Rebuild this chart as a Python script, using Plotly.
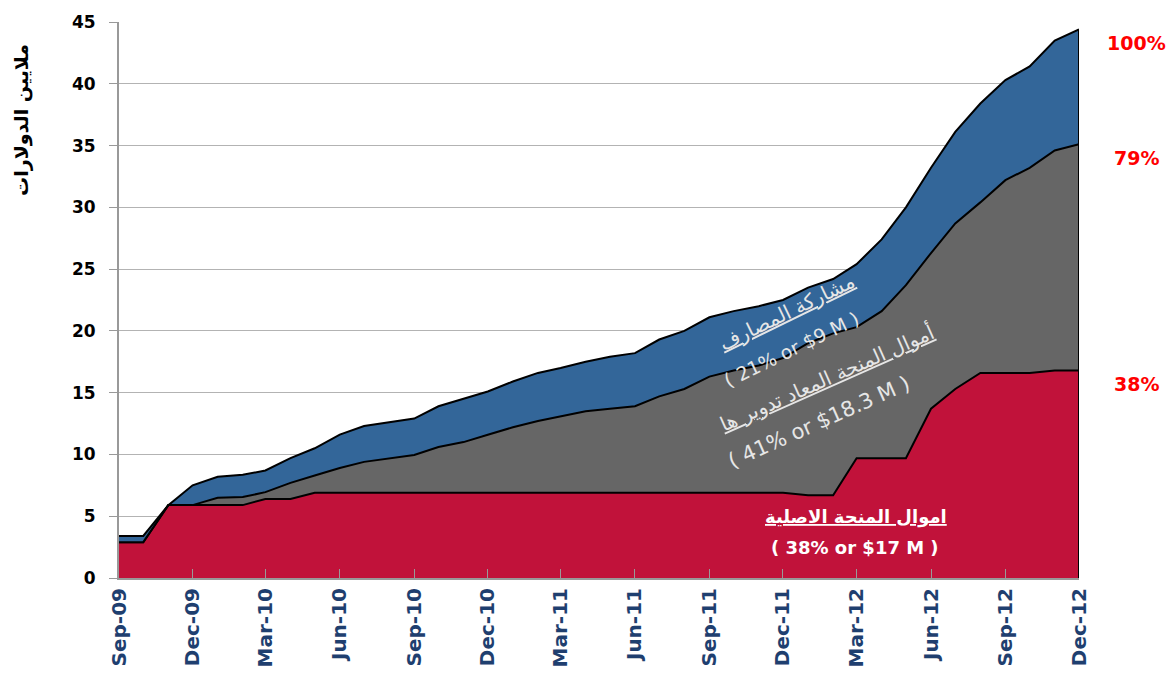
import pandas as pd
import plotly.graph_objects as go

# Monthly categories Sep-2009 .. Dec-2012
months = pd.date_range("2009-09-01", "2012-12-01", freq="MS")

# Original grant funds (red), $ millions
grant = [2.9, 2.9, 5.9, 5.9, 5.9, 5.9, 6.4, 6.4, 6.9, 6.9,
         6.9, 6.9, 6.9, 6.9, 6.9, 6.9, 6.9, 6.9, 6.9, 6.9,
         6.9, 6.9, 6.9, 6.9, 6.9, 6.9, 6.9, 6.9, 6.7, 6.7,
         9.7, 9.7, 9.7, 13.7, 15.3, 16.6, 16.6, 16.6, 16.8, 16.8]
# Recycled grant funds (gray)
recycled = [0.0, 0.0, 0.0, 0.0, 0.6, 0.65, 0.55, 1.3, 1.4, 2.0,
            2.5, 2.8, 3.05, 3.7, 4.1, 4.7, 5.3, 5.8, 6.2, 6.6,
            6.8, 7.0, 7.8, 8.4, 9.4, 9.9, 10.3, 10.9, 12.3, 13.1,
            10.6, 11.9, 14.0, 12.6, 13.4, 13.8, 15.6, 16.6, 17.8, 18.3]
# Bank participation (blue)
banks = [0.5, 0.5, 0.0, 1.6, 1.7, 1.8, 1.75, 2.0, 2.2, 2.7,
         2.9, 2.9, 2.95, 3.3, 3.5, 3.5, 3.7, 3.9, 3.9, 4.0,
         4.2, 4.3, 4.6, 4.7, 4.8, 4.8, 4.8, 4.7, 4.5, 4.4,
         5.1, 5.8, 6.3, 6.9, 7.4, 8.0, 8.1, 8.2, 8.9, 9.3]

series_names = ["اموال المنحة الاصلية", "أموال المنحة المعاد تدوير ها", "مشاركة المصارف"]
series_notes = ["( 38% or $17 M )", "( 41% or $18.3 M )", "( 21% or $9 M )"]
series_colors = ["#C1123A", "#666666", "#336699"]

FONT = "DejaVu Sans, Open Sans, Arial"

fig = go.Figure()
for name, vals, col in zip(series_names, [grant, recycled, banks], series_colors):
    fig.add_trace(go.Scatter(
        x=months, y=vals, name=name, mode="lines", stackgroup="one",
        line=dict(color="black", width=2), fillcolor=col, hoverinfo="skip"))

total_last = grant[-1] + recycled[-1] + banks[-1]
fig.add_trace(go.Scatter(x=[months[-1], months[-1]], y=[0, total_last], mode="lines",
                         line=dict(color="black", width=2), hoverinfo="skip", showlegend=False))

# Right-side percentage labels
cum_red = grant[-1]
cum_gray = grant[-1] + recycled[-1]
for val in [total_last, cum_gray, cum_red]:
    pct = round(100 * val / total_last)
    fig.add_annotation(x=1.060, xref="paper", xanchor="center", y=val, yref="y", yshift=-14,
                       text=f"<b>{pct}%</b>", showarrow=False,
                       font=dict(family=FONT, size=19, color="#FF0000"))

# Y axis title
fig.add_annotation(x=-0.101, xref="paper", xanchor="center", y=0.824, yref="paper",
                   yanchor="middle", textangle=-90,
                   text="<b>ملايين الدولارات</b>", showarrow=False,
                   font=dict(family=FONT, size=19, color="black"))

# In-area labels (title line + note line for each series)
# red
fig.add_annotation(x="2012-02-29", y=4.94, xref="x", yref="y", showarrow=False,
                   text=f"<b><u>{series_names[0]}</u></b>",
                   font=dict(family=FONT, size=18, color="white"))
fig.add_annotation(x="2012-02-28", y=2.43, xref="x", yref="y", showarrow=False,
                   text=f"<b>{series_notes[0]}</b>",
                   font=dict(family=FONT, size=18, color="white"))
# gray
fig.add_annotation(x="2012-01-25", y=16.2, xref="x", yref="y", showarrow=False, textangle=-24,
                   text=f"<u>{series_names[1]}</u>",
                   font=dict(family=FONT, size=20, color="#E6E6E6"))
fig.add_annotation(x="2012-01-15", y=12.6, xref="x", yref="y", showarrow=False, textangle=-24,
                   text=series_notes[1],
                   font=dict(family=FONT, size=21, color="#E6E6E6"))
# blue
fig.add_annotation(x="2011-12-06", y=21.5, xref="x", yref="y", showarrow=False, textangle=-26,
                   text=f"<u>{series_names[2]}</u>",
                   font=dict(family=FONT, size=20, color="#E6E6E6"))
fig.add_annotation(x="2011-12-12", y=18.5, xref="x", yref="y", showarrow=False, textangle=-26,
                   text=series_notes[2],
                   font=dict(family=FONT, size=19, color="#E6E6E6"))

fig.update_layout(
    width=1174, height=673,
    margin=dict(l=111, r=103, t=14, b=103, autoexpand=False),
    plot_bgcolor="white", paper_bgcolor="white",
    showlegend=False,
    xaxis=dict(
        type="date", range=[months[0], months[-1]], automargin=False,
        tick0=months[0], dtick="M3", tickformat="%b-%y", tickangle=-90,
        ticks="inside", ticklen=9, tickcolor="#999999", tickwidth=1,
        showline=True, linecolor="#999999", linewidth=2, showgrid=False,
        tickfont=dict(family=FONT, size=20, color="#1F3F6F", weight="bold"),
    ),
    yaxis=dict(
        range=[0, 45], dtick=5, tick0=0, automargin=False,
        ticks="outside", ticklen=8, tickcolor="#999999", ticklabelstandoff=10,
        showline=True, linecolor="#999999", linewidth=2,
        showgrid=True, gridcolor="#B3B3B3", gridwidth=1, zeroline=False,
        tickfont=dict(family=FONT, size=17, color="black", weight="bold"),
    ),
)

fig.write_html("out.html")
